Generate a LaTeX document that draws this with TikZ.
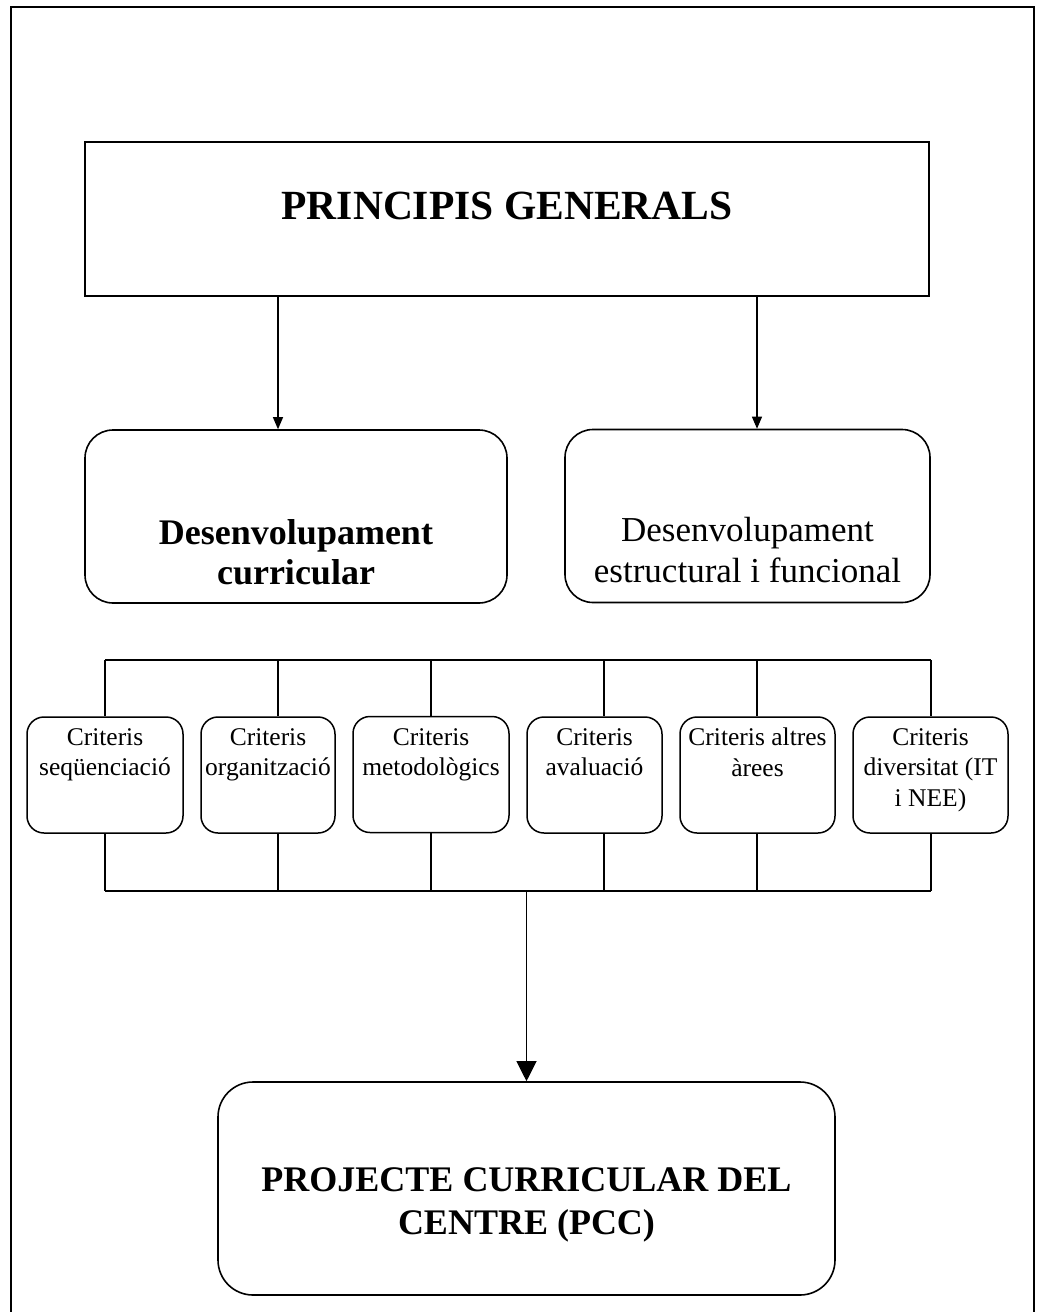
\documentclass[tikz,border=0pt]{standalone}
\usepackage{fontspec}
\setmainfont{Liberation Serif}
\usetikzlibrary{arrows.meta}

\begin{document}
\begin{tikzpicture}[x=1pt, y=-1pt,
  frameline/.style={line width=2pt},
  headbox/.style={draw, line width=2pt, rectangle, inner sep=0pt},
  bigbox/.style={draw, line width=1.6pt, rounded corners=28pt, inner sep=0pt, minimum height=173pt},
  critbox/.style={draw, line width=1.5pt, rounded corners=17pt, inner sep=0pt, minimum height=116pt},
  pccbox/.style={draw, line width=1.6pt, rounded corners=35pt, inner sep=0pt},
  crittext/.style={anchor=north, inner sep=0pt, align=center, font=\fontsize{25.5}{30.5}\selectfont},
  conn/.style={line width=1.1pt},
  arr/.style={conn, -{Triangle[length=12pt,width=10pt]}},
  bigarr/.style={conn, -{Triangle[length=20pt,width=20pt]}}
]
\useasboundingbox (0,0) rectangle (1037,1312);

% page frame, open at the bottom
\draw[frameline] (11,1312) -- (11,7) -- (1034,7) -- (1034,1312);

% top box
\node[headbox, minimum width=844pt, minimum height=154pt] (pg) at (507,219) {};
\node[anchor=north, inner sep=0pt, font=\fontsize{41.5}{48}\selectfont\bfseries] (pgt) at (507,192) {PRINCIPIS GENERALS};

% second level
\node[bigbox, minimum width=422pt] (dc) at (296,516.5) {};
\node[anchor=north, inner sep=0pt, align=center, font=\fontsize{36}{40}\selectfont\bfseries] (dct) at (296,519) {Desenvolupament\\curricular};
\node[bigbox, minimum width=365pt] (de) at (747.5,516) {};
\node[anchor=north, inner sep=0pt, align=center, font=\fontsize{35}{41}\selectfont] (det) at (747.5,517) {Desenvolupament\\estructural i funcional};

\coordinate (ax1) at (278,0);
\coordinate (ax2) at (757,0);
\draw[arr] (pg.south -| ax1) -- (dc.north -| ax1);
\draw[arr] (pg.south -| ax2) -- (de.north -| ax2);

% criteria boxes
\node[critbox, minimum width=156pt] (c1) at (105,775) {};
\node[critbox, minimum width=134pt] (c2) at (268,775) {};
\node[critbox, minimum width=156pt] (c3) at (431,774.5) {};
\node[critbox, minimum width=135pt] (c4) at (594.5,775) {};
\node[critbox, minimum width=155pt] (c5) at (757.5,775) {};
\node[critbox, minimum width=155pt] (c6) at (930.5,775) {};

\node[crittext] (t1) at (105,728) {Criteris\\seqüenciació};
\node[crittext] (t2) at (268,728) {Criteris\\organització};
\node[crittext] (t3) at (431,728) {Criteris\\metodològics};
\node[crittext] (t4) at (594.5,728) {Criteris\\avaluació};
\node[crittext] (t5) at (757.5,728) {Criteris altres\\àrees};
\node[crittext] (t6) at (930.5,728) {Criteris\\diversitat (IT\\i NEE)};

% upper and lower buses
\coordinate (u1) at (105,660);
\coordinate (u2) at (278,660);
\coordinate (u3) at (431,660);
\coordinate (u4) at (604,660);
\coordinate (u5) at (757,660);
\coordinate (u6) at (931,660);
\coordinate (lb) at (0,891);

\draw[conn] (u1) -- (u6);
\draw[conn] (u1 |- lb) -- (u6 |- lb);
\foreach \i in {1,...,6} {
  \draw[conn] (u\i) -- (c\i.north -| u\i);
  \draw[conn] (c\i.south -| u\i) -- (u\i |- lb);
}

% final box
\node[pccbox, minimum width=617pt, minimum height=213pt] (pcc) at (526.5,1188.5) {};
\node[anchor=north, inner sep=0pt, align=center, font=\fontsize{36}{43}\selectfont\bfseries] (pcct) at (526.5,1167) {PROJECTE CURRICULAR DEL\\CENTRE (PCC)};

\draw[bigarr] (pcc.north |- lb) -- (pcc.north);
\end{tikzpicture}
\end{document}
